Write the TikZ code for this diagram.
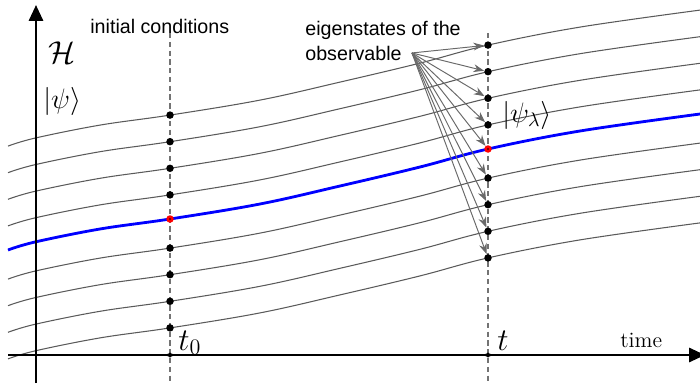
\documentclass[tikz,border=0pt]{standalone}
\usepackage{fix-cm}
\usepackage{fontspec}
\setsansfont{Liberation Sans}
\usetikzlibrary{arrows.meta, shapes.geometric, positioning}
\definecolor{curvegray}{RGB}{90, 90, 90}
\definecolor{dashgray}{RGB}{115, 115, 115}
\definecolor{arrowgray}{RGB}{105, 105, 105}

\tikzset{
  statecurve/.pic={\draw[pic actions] plot[smooth, tension=0.6] coordinates
    {(8,133) (35,141) (100,154) (170,164) (260,179) (340,197) (420,216) (488,234) (580,252) (700,269)};},
  statedot/.style={circle, fill=black, inner sep=0, minimum size=0.15cm},
  reddot/.style={circle, fill=red, inner sep=0, minimum size=0.15cm},
  crossmark/.style={star, star points=6, fill=black, inner sep=0, minimum size=0.11cm},
  note/.style={font=\sffamily\fontsize{11.2}{13.6}\selectfont, inner sep=0},
  timeline/.style={dashgray, line width=0.6pt, dash pattern=on 3pt off 2pt},
  eigarrow/.style={arrowgray, line width=0.55pt, -{Stealth[length=6pt, width=4.5pt]}},
  axis/.style={line width=1.4pt, -{Triangle[length=9pt, width=8pt]}}
}

\begin{document}
\begin{tikzpicture}[x=0.02cm, y=0.02cm]
  \useasboundingbox (0,0) rectangle (700,383);

  % family of trajectories
  \foreach \k in {1,2,3,4,6,7,8,9}
    \pic[draw=curvegray, line width=0.6pt] at (0,{(\k-5)*26.6-2.5}) {statecurve};
  \pic[draw=blue, line width=1.6pt] at (0,0) {statecurve};

  % axes
  \coordinate (xstart) at (8,28);
  \coordinate (xend) at (705,28);
  \coordinate (ystart) at (36,0);
  \coordinate (yend) at (36,378);
  \draw[axis] (xstart) -- (xend);
  \draw[axis] (ystart) -- (yend);

  % the two instants
  \coordinate (t0top) at (170,350);
  \coordinate (t0bot) at (170,0);
  \coordinate (ttop) at (488,350);
  \coordinate (tbot) at (488,0);
  \draw[timeline] (t0top) -- (t0bot);
  \draw[timeline] (ttop) -- (tbot);
  \node[crossmark] (m0) at (170,28) {};
  \node[crossmark] (m1) at (488,28) {};

  % states on the trajectories
  \foreach \k in {1,2,3,4,6,7,8,9}{
    \node[statedot] (i\k) at (170,{164+(\k-5)*26.6-2.5}) {};
    \node[statedot] (e\k) at (488,{234+(\k-5)*26.6-2.5}) {};
  }
  \node[reddot] (i5) at (170,164) {};
  \node[reddot] (e5) at (488,234) {};
  \fill[black] (i5.center) circle (0.9);
  \fill[black] (e5.center) circle (0.9);

  % labels
  \node[note, anchor=base west] (init) at (90,350) {initial conditions};
  \node[note, anchor=base west] (eig1) at (305,348) {eigenstates of the};
  \node[note, anchor=base west] (eig2) at (305,323) {observable};
  \coordinate (src) at ([xshift=0.2cm]eig2.east);
  \foreach \k in {1,...,9}
    \draw[eigarrow] (src) -- (e\k);

  \node[inner sep=0, font=\fontsize{18}{20}\selectfont] (hilb) at (62,330) {$\mathcal{H}$};
  \node[inner sep=0, anchor=west, font=\fontsize{16}{18}\selectfont] (psi) at (43,282) {$|\psi\rangle$};
  \node[inner sep=0, anchor=west, font=\fontsize{16}{18}\selectfont] (psil) at (502,268) {$|\psi_\lambda\rangle$};
  \node[inner sep=0, anchor=base west, font=\fontsize{18}{20}\selectfont] (tzero) at (178,33) {$t_0$};
  \node[inner sep=0, anchor=base west, font=\fontsize{18}{20}\selectfont] (tnow) at (497,33) {$t$};
  \node[inner sep=0, anchor=base west, font=\fontsize{12.5}{14}\selectfont] (time) at (620,36) {time};
\end{tikzpicture}
\end{document}
